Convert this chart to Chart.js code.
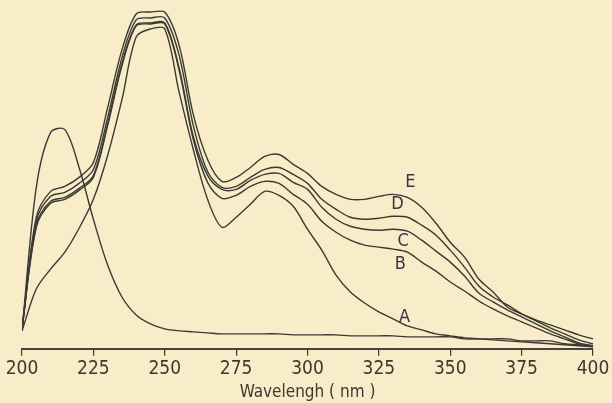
<!DOCTYPE html>
<html>
<head>
<meta charset="utf-8">
<script src="https://cdn.jsdelivr.net/npm/chart.js@4.4.1/dist/chart.umd.min.js"></script>
<style>
  html, body { margin: 0; padding: 0; background: #f8ecc9; }
  #wrap { width: 612px; height: 403px; position: relative; }
</style>
</head>
<body>
<div id="wrap"><canvas id="spectra"></canvas></div>
<script>
// wavelength grid (nm)
let wavelengths = [200,205,210,215,220,225,230,235,240,245,250,255,260,265,270,275,280,285,290,295,300,
  305,310,315,320,325,330,335,340,345,350,355,360,365,370,375,380,385,390,395,400]
let tickValues = [200,225,250,275,300,325,350,375,400]

// absorbance, one value per wavelength
let curveFree = [0.18,1.62,2.17,2.20,1.82,1.30,0.84,0.52,0.34,0.25,0.20,0.18,0.17,0.16,0.15,0.15,0.15,0.15,0.15,0.14,0.14,
  0.14,0.14,0.13,0.13,0.13,0.13,0.12,0.12,0.12,0.12,0.10,0.10,0.10,0.10,0.08,0.08,0.08,0.05,0.04,0.03]
let curveA = [0.18,0.60,0.80,0.97,1.21,1.50,1.94,2.50,3.13,3.21,3.21,2.58,2.00,1.50,1.22,1.32,1.45,1.58,1.54,1.43,1.20,
  0.99,0.74,0.57,0.46,0.37,0.30,0.23,0.19,0.15,0.13,0.11,0.10,0.09,0.08,0.07,0.06,0.05,0.04,0.03,0.02]
let curveB = [0.20,1.22,1.46,1.50,1.59,1.72,2.24,2.84,3.24,3.26,3.26,2.80,2.10,1.67,1.51,1.54,1.63,1.68,1.66,1.55,1.45,
  1.28,1.17,1.09,1.04,1.02,1.00,0.97,0.87,0.78,0.67,0.58,0.48,0.40,0.33,0.27,0.21,0.15,0.10,0.05,0.02]
let curveC = [0.20,1.24,1.48,1.52,1.61,1.74,2.26,2.86,3.25,3.27,3.27,2.82,2.13,1.74,1.60,1.60,1.69,1.75,1.76,1.67,1.60,
  1.42,1.30,1.23,1.20,1.19,1.20,1.18,1.09,0.98,0.87,0.73,0.56,0.47,0.39,0.32,0.25,0.18,0.12,0.06,0.03]
let curveD = [0.20,1.28,1.53,1.57,1.66,1.80,2.32,2.92,3.30,3.32,3.32,2.95,2.24,1.78,1.62,1.63,1.72,1.80,1.82,1.75,1.66,
  1.50,1.40,1.32,1.30,1.31,1.33,1.32,1.24,1.14,0.99,0.82,0.63,0.52,0.44,0.35,0.28,0.21,0.15,0.09,0.05]
let curveE = [0.20,1.32,1.58,1.63,1.72,1.87,2.42,3.00,3.36,3.38,3.38,3.05,2.35,1.90,1.68,1.72,1.82,1.93,1.95,1.85,1.76,
  1.63,1.55,1.50,1.50,1.53,1.55,1.52,1.42,1.26,1.07,0.92,0.70,0.57,0.42,0.35,0.29,0.24,0.19,0.14,0.10]

let curveNames = ['A', 'B', 'C', 'D', 'E']
// where each letter is written: [wavelength, absorbance]
let labelSpots = [[334, 0.32], [332.5, 0.85], [333.5, 1.08], [331.5, 1.45], [336, 1.67]]

let ink = '#3b3a33'

function toPoints(values) {
  return values.map((v, i) => ({ x: wavelengths[i], y: v }))
}

function makeSet(name, values) {
  return {
    label: name,
    data: toPoints(values),
    borderColor: ink,
    borderWidth: 1.4,
    pointRadius: 0,
    fill: false,
    tension: 0.32
  }
}

// writes the A..E letters next to their curves
let letterPlugin = {
  id: 'letters',
  afterDatasetsDraw(chart) {
    let ctx = chart.ctx
    let xs = chart.scales.x
    let ys = chart.scales.y
    ctx.save()
    ctx.fillStyle = '#3d3540'
    ctx.font = '18px "Liberation Sans Narrow", "DejaVu Sans Condensed", sans-serif'
    ctx.textAlign = 'center'
    ctx.textBaseline = 'middle'
    curveNames.forEach((n, i) => {
      ctx.fillText(n, xs.getPixelForValue(labelSpots[i][0]), ys.getPixelForValue(labelSpots[i][1]))
    })
    ctx.restore()
  }
}

let ctx = document.getElementById('spectra').getContext('2d')
new Chart(ctx, {
  type: 'line',
  data: {
    datasets: [
      makeSet('free', curveFree),
      makeSet('A', curveA),
      makeSet('B', curveB),
      makeSet('C', curveC),
      makeSet('D', curveD),
      makeSet('E', curveE)
    ]
  },
  options: {
    responsive: true,
    maintainAspectRatio: false,
    animation: false,
    layout: { padding: { left: 22, right: 19, top: 10, bottom: 0 } },
    plugins: {
      legend: { display: false },
      tooltip: { enabled: false }
    },
    scales: {
      x: {
        type: 'linear',
        min: 200,
        max: 400,
        afterBuildTicks: axis => { axis.ticks = tickValues.map(v => ({ value: v })) },
        grid: { display: true, drawOnChartArea: false, drawTicks: true, tickLength: 7, color: ink, lineWidth: 1.2 },
        border: { display: true, color: '#4a4040', width: 2 },
        ticks: {
          color: '#3a3a30',
          padding: 2,
          maxRotation: 0,
          font: { family: '"Liberation Sans Narrow", "DejaVu Sans Condensed", sans-serif', size: 19 }
        },
        title: {
          display: true,
          text: 'Wavelengh ( nm )',
          color: '#3a3a30',
          padding: { top: 0, bottom: 0 },
          font: { family: '"Liberation Sans Narrow", "DejaVu Sans Condensed", sans-serif', size: 17 }
        }
      },
      y: {
        display: false,
        min: 0,
        max: 3.4
      }
    }
  },
  plugins: [letterPlugin]
})
</script>
</body>
</html>
